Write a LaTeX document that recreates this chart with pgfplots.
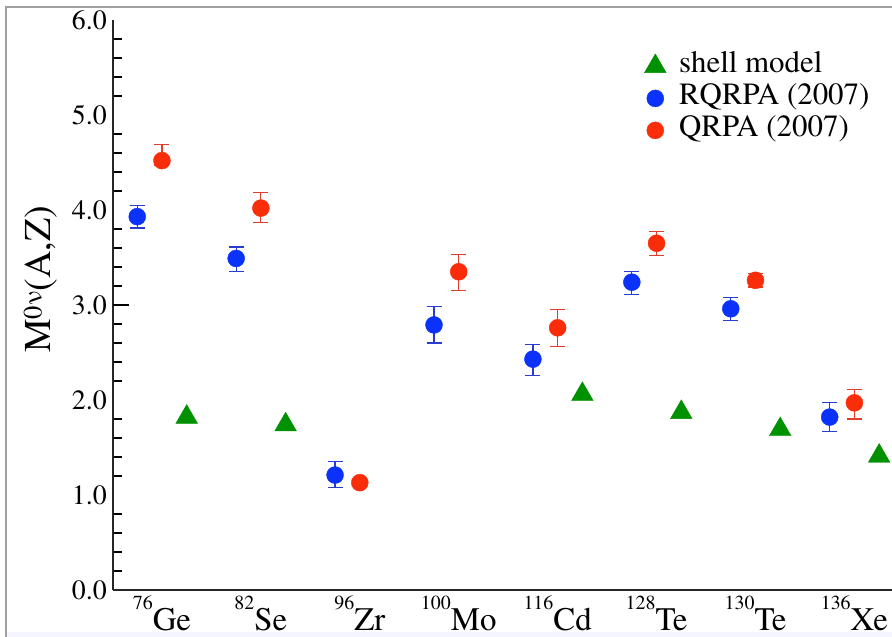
\documentclass[border=0pt]{standalone}
\usepackage{fontspec}
\setmainfont{TeX Gyre Termes}
\usepackage{pgfplots}
\pgfplotsset{compat=1.18}
\usepackage{pgfplotstable}
\definecolor{cblue}{RGB}{10,50,250}
\definecolor{cred}{RGB}{250,45,10}
\definecolor{cgreen}{RGB}{0,145,0}
\definecolor{eblue}{RGB}{40,60,210}
\definecolor{ered}{RGB}{225,60,45}

\pgfplotstableread{
x y ep em
-0.25 3.93 0.12 0.12
0.75 3.49 0.12 0.14
1.75 1.21 0.14 0.13
2.75 2.79 0.19 0.19
3.75 2.43 0.15 0.17
4.75 3.24 0.11 0.13
5.75 2.96 0.12 0.12
6.75 1.82 0.15 0.15
}\rqrpa

\pgfplotstableread{
x y ep em
0 4.52 0.17 0.05
1 4.02 0.16 0.15
2 1.13 0.00 0.00
3 3.35 0.18 0.20
4 2.76 0.19 0.20
5 3.65 0.12 0.13
6 3.26 0.07 0.07
7 1.97 0.14 0.17
}\qrpa

\pgfplotstableread{
x y
0.25 1.82
1.25 1.74
4.25 2.06
5.25 1.87
6.25 1.69
7.25 1.41
}\shell

\newcommand{\iso}[2]{{\fontsize{20}{20}\selectfont\raisebox{21bp}{#1}}#2}

\begin{document}
\begin{tikzpicture}
\begin{axis}[
  at={(113bp,47bp)}, anchor=south west,
  scale only axis, width=779bp, height=570bp,
  xmin=-0.495, xmax=7.38, ymin=0, ymax=6,
  axis x line=bottom, axis y line=left,
  axis line style={-, line width=1.5bp, black!85},
  tick align=inside,
  xtick={0,1,2,3,4,5,6,7},
  xticklabels={\iso{76}{Ge},\iso{82}{Se},\iso{96}{Zr},\iso{100}{Mo},\iso{116}{Cd},\iso{128}{Te},\iso{130}{Te},\iso{136}{Xe}},
  x tick style={draw=none},
  xticklabel style={font=\fontsize{33}{35}\selectfont, anchor=north, inner sep=0pt, yshift=-6bp},
  ytick={0,1,2,3,4,5,6},
  minor ytick={0.2,0.4,0.6,0.8,1.2,1.4,1.6,1.8,2.2,2.4,2.6,2.8,3.2,3.4,3.6,3.8,4.2,4.4,4.6,4.8,5.2,5.4,5.6,5.8},
  major tick length=0pt, minor tick length=9bp,
  y tick style={line width=1.2bp, black},
  extra y ticks={3}, extra y tick labels={},
  extra y tick style={major tick length=16bp},
  yticklabel style={font=\fontsize{28}{30}\selectfont, inner sep=0pt, xshift=-6bp,
    /pgf/number format/.cd, fixed, fixed zerofill, precision=1, assume math mode=true},
  ylabel={M\textsuperscript{0ν}(A,Z)},
  ylabel style={font=\fontsize{38}{40}\selectfont, at={(axis description cs:-0.093,0.545)}, anchor=center},
  legend style={at={(axis description cs:0.682,0.947)}, anchor=north west, draw=none, fill=none,
    inner sep=0pt, font=\fontsize{31}{33}\selectfont, nodes={inner sep=0pt, text height=22bp, text depth=10bp},
    /tikz/every odd column/.append style={column sep=13bp}},
  legend cell align=left,
]
\addplot[only marks, mark=triangle*, mark size=12.5bp, mark options={fill=cgreen, draw=cgreen}] table[x=x,y=y] {\shell};
\addlegendentry{shell model}
\addplot[only marks, mark=*, mark size=8.5bp, mark options={fill=cblue, draw=cblue},
  error bars/.cd, y dir=both, y explicit,
  error bar style={line width=1.2bp, eblue},
  error mark options={rotate=90, mark size=7.5bp, line width=1.2bp, eblue}]
  table[x=x,y=y,y error plus=ep,y error minus=em] {\rqrpa};
\addlegendentry{RQRPA (2007)}
\addplot[only marks, mark=*, mark size=8.5bp, mark options={fill=cred, draw=cred},
  error bars/.cd, y dir=both, y explicit,
  error bar style={line width=1.2bp, ered},
  error mark options={rotate=90, mark size=7.5bp, line width=1.2bp, ered}]
  table[x=x,y=y,y error plus=ep,y error minus=em] {\qrpa};
\addlegendentry{QRPA (2007)}
\end{axis}
\fill[blue!4] (7bp,0) rectangle (892bp,5bp);
\draw[gray!75, line width=2bp] (6bp,0) -- (6bp,630bp) -- (892bp,630bp);
\pgfresetboundingbox
\useasboundingbox (0,0) rectangle (892bp,637bp);
\end{tikzpicture}
\end{document}
